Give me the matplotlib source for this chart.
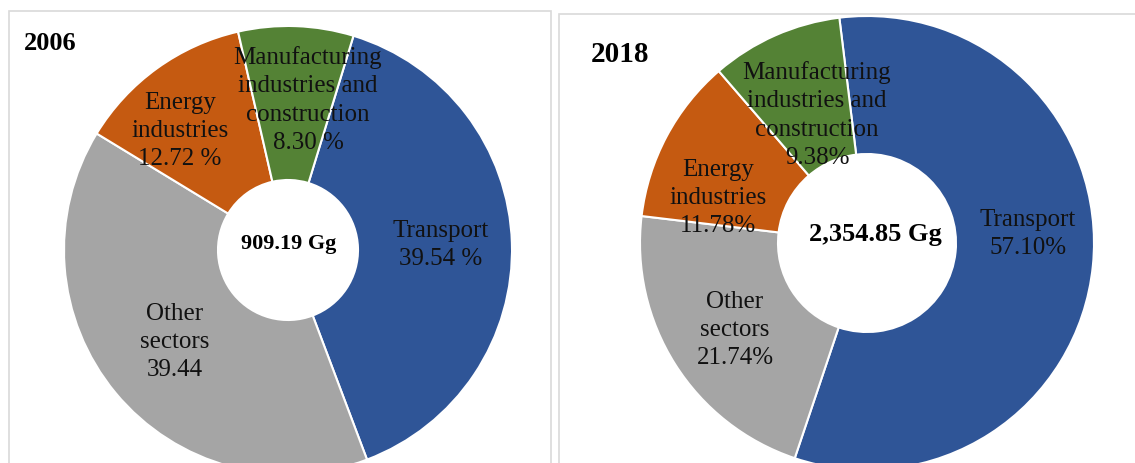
import matplotlib
matplotlib.use("Agg")
import matplotlib.pyplot as plt
import matplotlib.patches as patches

# data
sectors = ["Transport", "Other sectors", "Energy industries",
           "Manufacturing industries and construction"]
shares_2006 = [39.54, 39.44, 12.72, 8.30]
shares_2018 = [57.10, 21.74, 11.78, 9.38]
years = ["2006", "2018"]
totals = ["909.19 Gg", "2,354.85 Gg"]
labels_2006 = ["Transport\n39.54 %", "Other\nsectors\n39.44",
               "Energy\nindustries\n12.72 %",
               "Manufacturing\nindustries and\nconstruction\n8.30 %"]
labels_2018 = ["Transport\n57.10%", "Other\nsectors\n21.74%",
               "Energy\nindustries\n11.78%",
               "Manufacturing\nindustries and\nconstruction\n9.38%"]

colors = ["#2F5597", "#A5A5A5", "#C55A11", "#548235"]

W, H = 1135, 463
plt.rcParams['font.family'] = ['Liberation Serif', 'DejaVu Serif']

fig = plt.figure(figsize=(W / 100, H / 100), dpi=100)
ax = fig.add_axes([0, 0, 1, 1])

def py(y):
    # pixel row (top origin) -> data y
    return H - y

# layout of each panel (pixel units, top-left origin)
panels = [
    dict(shares=shares_2006, labels=labels_2006, year=years[0], total=totals[0],
         center=(288, 250), R=224, r=70, start=90 - 17,
         box=(9, 11, 551), year_xy=(50, 44), year_fs=19,
         total_xy=(289, 244), total_fs=16,
         label_xy=[(441, 245), (175, 342), (180, 131), (308, 100)]),
    dict(shares=shares_2018, labels=labels_2018, year=years[1], total=totals[1],
         center=(867, 243), R=227, r=89, start=90 + 7,
         box=(559, 14, 1140), year_xy=(620, 54), year_fs=21,
         total_xy=(875, 235), total_fs=19,
         label_xy=[(1028, 234), (735, 330), (718, 198), (817, 115)]),
]

for p in panels:
    x0, y0, x1 = p['box']
    ax.add_patch(patches.Rectangle((x0, -10), x1 - x0, py(y0) + 10,
                                   facecolor='white', edgecolor='#D9D9D9',
                                   linewidth=1.2, zorder=0))
    cx, cy = p['center']
    ax.pie(p['shares'], colors=colors, startangle=p['start'], counterclock=False,
           radius=p['R'], center=(cx, py(cy)), frame=True,
           wedgeprops=dict(width=p['R'] - p['r'], edgecolor='white', linewidth=1.5))
    for lab, (lx, ly) in zip(p['labels'], p['label_xy']):
        ax.text(lx, py(ly), lab, ha='center', va='center', fontsize=18,
                linespacing=1.38, color='#111111')
    tx, ty = p['total_xy']
    ax.text(tx, py(ty), p['total'], ha='center', va='center',
            fontsize=p['total_fs'], fontweight='bold')
    yx, yy = p['year_xy']
    ax.text(yx, py(yy), p['year'], ha='center', va='center',
            fontsize=p['year_fs'], fontweight='bold')

ax.set_xlim(0, W)
ax.set_ylim(0, H)
ax.set_aspect('equal')
ax.axis('off')

plt.savefig('out.png', dpi=100)
